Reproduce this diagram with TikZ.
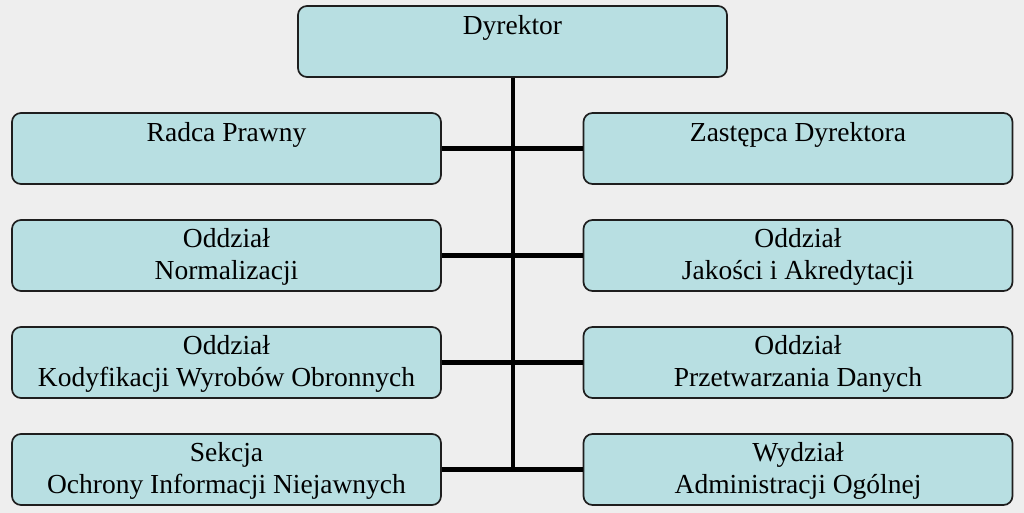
\documentclass[tikz,border=0pt]{standalone}
\usepackage{fontspec}
\setmainfont{Liberation Serif}
\definecolor{bg}{HTML}{EEEEEE}
\definecolor{boxfill}{HTML}{B8DFE2}
\definecolor{boxline}{HTML}{1E1E1E}
\tikzset{
  orgbox/.style={draw=boxline, fill=boxfill, line width=1.7pt, rounded corners=9pt,
    minimum width=429pt, minimum height=71pt, inner sep=0pt},
  boxtext/.style={anchor=base, align=center, inner sep=0pt,
    font=\fontsize{27.5}{31.5}\selectfont},
  link/.style={line width=4.5pt, black}
}
\begin{document}
\begin{tikzpicture}[x=1pt,y=-1pt]
\fill[bg] (0,0) rectangle (1024,513);
\useasboundingbox (0,0) rectangle (1024,513);
% boxes
\node[orgbox] (dyr) at (512.5,41.5) {};
\node[orgbox] (l1) at (226.5,148.5) {};
\node[orgbox] (l2) at (226.5,255.5) {};
\node[orgbox] (l3) at (226.5,362.5) {};
\node[orgbox] (l4) at (226.5,469.5) {};
\node[orgbox] (r1) at (798,148.5) {};
\node[orgbox] (r2) at (798,255.5) {};
\node[orgbox] (r3) at (798,362.5) {};
\node[orgbox] (r4) at (798,469.5) {};
% connectors
\coordinate (trunkend) at (513,469.5);
\draw[link] (dyr.south -| trunkend) -- (trunkend);
\draw[link] (l1.east) -- (r1.west);
\draw[link] (l2.east) -- (r2.west);
\draw[link] (l3.east) -- (r3.west);
\draw[link] (l4.east) -- (r4.west);
% texts (base anchor = baseline of last line)
\node[boxtext] (tdyr) at ([yshift=-29pt]dyr.north) {Dyrektor};
\node[boxtext] (tl1) at ([yshift=-29pt]l1.north) {Radca Prawny};
\node[boxtext] (tr1) at ([yshift=-29pt]r1.north) {Zastępca Dyrektora};
\node[boxtext] (tl2) at ([yshift=-60pt]l2.north) {Oddział\\Normalizacji};
\node[boxtext] (tr2) at ([yshift=-60pt]r2.north) {Oddział\\Jakości i Akredytacji};
\node[boxtext] (tl3) at ([yshift=-60pt]l3.north) {Oddział\\Kodyfikacji Wyrobów Obronnych};
\node[boxtext] (tr3) at ([yshift=-60pt]r3.north) {Oddział\\Przetwarzania Danych};
\node[boxtext] (tl4) at ([yshift=-60pt]l4.north) {Sekcja\\Ochrony Informacji Niejawnych};
\node[boxtext] (tr4) at ([yshift=-60pt]r4.north) {Wydział\\Administracji Ogólnej};
\end{tikzpicture}
\end{document}
